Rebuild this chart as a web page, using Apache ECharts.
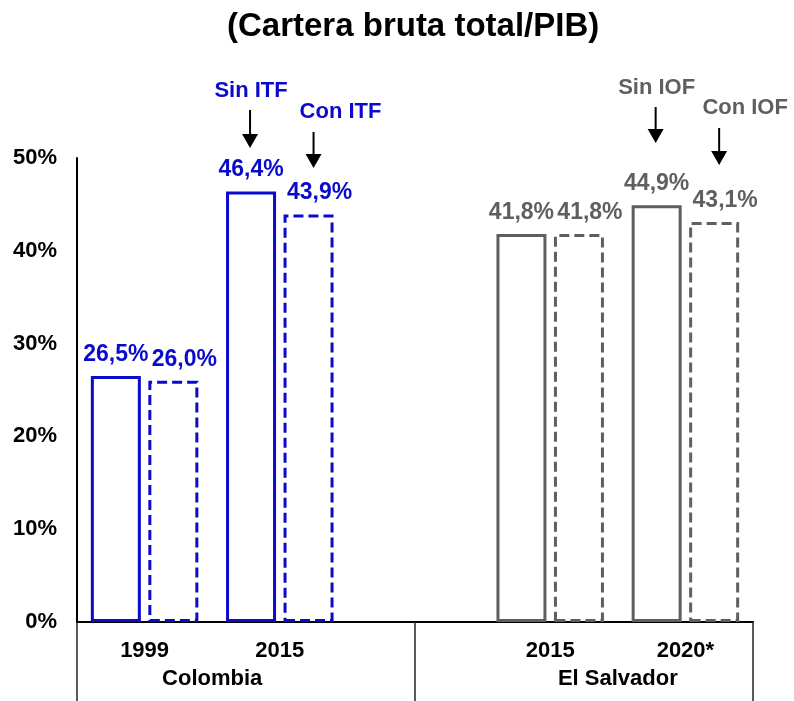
<!DOCTYPE html>
<html>
<head>
<meta charset="utf-8">
<title>Cartera bruta total/PIB</title>
<script src="https://cdn.jsdelivr.net/npm/echarts@6/dist/echarts.min.js"></script>
<style>
  html, body { margin: 0; padding: 0; background: #fff; }
  #chart { width: 794px; height: 701px; }
</style>
</head>
<body>
<div id="chart"></div>
<script>
// Categories along the bottom axis (the empty slot separates the two countries)
const years = ['1999', '2015', '', '2015', '2020*'];
const countryOfYear = ['Colombia', 'Colombia', '', 'El Salvador', 'El Salvador'];
const countries = ['Colombia', 'El Salvador'];

// Gross loan portfolio / GDP (%)
const sinImpuesto = [26.5, 46.4, null, 41.8, 44.9];
const conImpuesto = [26.0, 43.9, null, 41.8, 43.1];

const yTicks = [0, 10, 20, 30, 40, 50];

const BLUE = '#0A0ACC';
const GRAY = '#5F5F5F';
const FONT = 'Liberation Sans, Arial, sans-serif';
const countryColor = { 'Colombia': BLUE, 'El Salvador': GRAY };

const BAR_W = 50;
const BAR_GAP = 0.15;

const fmt = v => v.toFixed(1).replace('.', ',') + '%';

function buildData(values) {
  return values.map((v, i) => {
    if (v === null) return '-';
    const c = countryColor[countryOfYear[i]];
    return {
      value: v,
      itemStyle: { borderColor: c },
      label: { color: c }
    };
  });
}

const chart = echarts.init(document.getElementById('chart'), null, { renderer: 'canvas' });

const option = {
  animation: false,
  backgroundColor: '#fff',
  title: {
    text: '(Cartera bruta total/PIB)',
    left: 222,
    top: 5,
    textStyle: { fontFamily: FONT, fontSize: 33, fontWeight: 'bold', color: '#000' }
  },
  grid: { left: 77, right: 41, top: 158, bottom: 79, containLabel: false },
  xAxis: [
    {
      type: 'category',
      data: years,
      axisLine: { show: true, onZero: false, lineStyle: { color: '#000', width: 2 } },
      axisTick: { show: false },
      axisLabel: {
        interval: 0, margin: 18,
        fontFamily: FONT, fontSize: 22, fontWeight: 'bold', color: '#000'
      },
      splitLine: { show: false }
    },
    {
      // country group labels and the group separators below the axis
      type: 'value',
      position: 'bottom',
      min: -0.5,
      max: 4.5,
      axisLine: { show: false, onZero: false },
      splitLine: { show: false },
      axisTick: {
        show: true,
        customValues: [-0.5, 2, 4.5],
        length: 79,
        lineStyle: { color: '#262626', width: 1.5 }
      },
      axisLabel: {
        customValues: [0.5, 3.5],
        formatter: v => (v < 2 ? countries[0] : countries[1]),
        margin: 46,
        fontFamily: FONT, fontSize: 22, fontWeight: 'bold', color: '#000'
      }
    }
  ],
  yAxis: {
    type: 'value',
    min: yTicks[0],
    max: yTicks[yTicks.length - 1],
    interval: 10,
    axisLine: { show: true, onZero: false, lineStyle: { color: '#000', width: 2 } },
    axisTick: { show: false },
    splitLine: { show: false },
    axisLabel: {
      formatter: '{value}%',
      margin: 20,
      fontFamily: FONT, fontSize: 22, fontWeight: 'bold', color: '#000'
    }
  },
  series: [
    {
      name: 'Sin impuesto',
      type: 'bar',
      data: buildData(sinImpuesto),
      barWidth: BAR_W,
      barGap: (BAR_GAP * 100) + '%',
      itemStyle: { color: 'rgba(0,0,0,0)', borderWidth: 3, borderType: 'solid' },
      label: {
        show: true, position: 'top', distance: 10,
        formatter: p => fmt(p.value),
        fontFamily: FONT, fontSize: 23, fontWeight: 'bold'
      }
    },
    {
      name: 'Con impuesto',
      type: 'bar',
      data: buildData(conImpuesto),
      barWidth: BAR_W,
      itemStyle: { color: 'rgba(0,0,0,0)', borderWidth: 3, borderType: [10, 5] },
      label: {
        show: true, position: 'top', distance: 10, offset: [11, 0],
        formatter: p => fmt(p.value),
        fontFamily: FONT, fontSize: 23, fontWeight: 'bold'
      }
    }
  ]
};

chart.setOption(option);

// Callouts pointing to the bars with and without the transaction tax
const callouts = [
  { text: 'Sin ITF', cat: 1, side: -1, textDx: 0,  textY: 91,  arrowTop: 110, arrowTip: 148 },
  { text: 'Con ITF', cat: 1, side: 1,  textDx: 32, textY: 112, arrowTop: 132, arrowTip: 168 },
  { text: 'Sin IOF', cat: 4, side: -1, textDx: 0,  textY: 88,  arrowTop: 107, arrowTip: 143 },
  { text: 'Con IOF', cat: 4, side: 1,  textDx: 31, textY: 108, arrowTop: 128, arrowTip: 165 }
];

function drawCallouts() {
  const half = (BAR_W + BAR_W * BAR_GAP) / 2;
  const elements = [];
  callouts.forEach(c => {
    const cx = chart.convertToPixel({ xAxisIndex: 0 }, c.cat) + c.side * half;
    const ax = cx + (c.side > 0 ? 5 : -1);
    const color = countryColor[countryOfYear[c.cat]];
    const head = 14;
    elements.push({
      type: 'text',
      style: {
        text: c.text, x: cx + c.textDx, y: c.textY,
        align: 'center', verticalAlign: 'middle',
        fill: color, font: 'bold 22px ' + FONT
      }
    });
    elements.push({
      type: 'line',
      shape: { x1: ax, y1: c.arrowTop, x2: ax, y2: c.arrowTip - head + 1 },
      style: { stroke: '#000', lineWidth: 2 }
    });
    elements.push({
      type: 'polygon',
      shape: { points: [[ax - 8, c.arrowTip - head], [ax + 8, c.arrowTip - head], [ax, c.arrowTip]] },
      style: { fill: '#000' }
    });
  });
  chart.setOption({ graphic: elements });
}

drawCallouts();
</script>
</body>
</html>
